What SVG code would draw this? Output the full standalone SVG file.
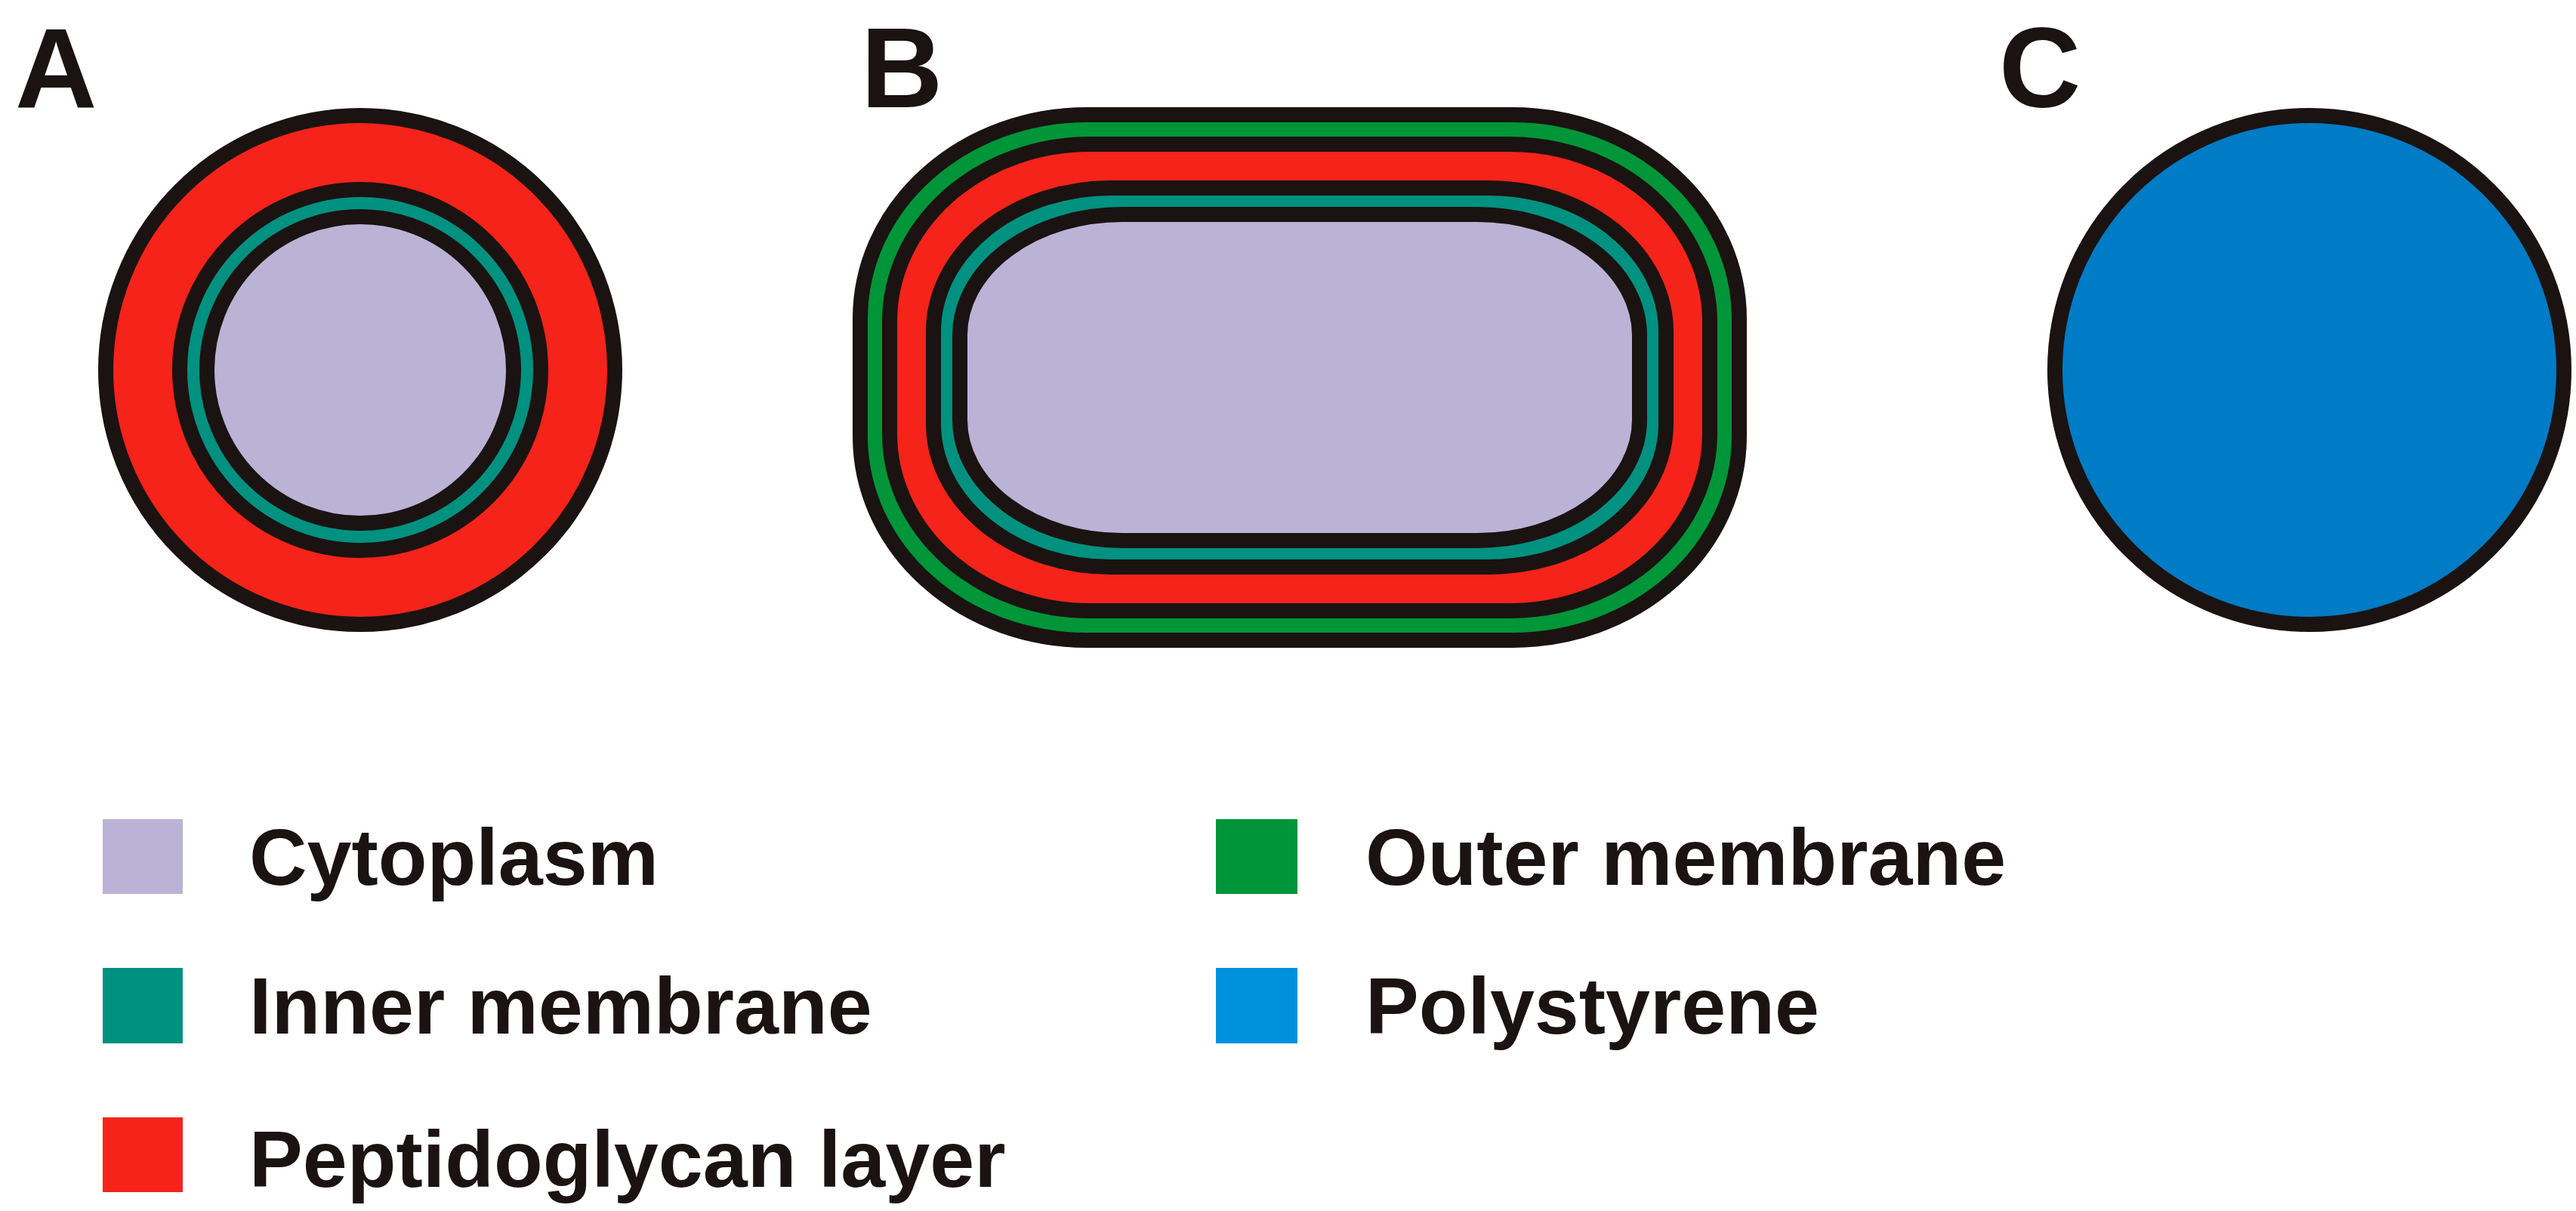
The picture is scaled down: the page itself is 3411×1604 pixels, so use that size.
<svg xmlns="http://www.w3.org/2000/svg" width="3411" height="1604" viewBox="0 0 3411 1604">
<style>
.ln{stroke:#1a1311;stroke-width:20}
.lbl{font-family:"Liberation Sans",Arial,sans-serif;font-weight:bold;font-size:150px;fill:#1a1311}
.lg{font-family:"Liberation Sans",Arial,sans-serif;font-weight:bold;font-size:106px;fill:#1a1311}
.cyt{fill:#bbb3d6}.inm{fill:#009180}.pep{fill:#f52319}.out{fill:#009539}
</style>
<rect width="3411" height="1604" fill="#fff"/>
<g id="panelA">
<text class="lbl" x="20" y="142">A</text>
<circle class="ln pep" cx="477" cy="490" r="337"/>
<circle class="ln inm" cx="477" cy="490" r="239"/>
<circle class="ln cyt" cx="477" cy="490" r="203"/>
</g>
<g id="panelB">
<text class="lbl" x="1140" y="142">B</text>
<rect class="ln" fill="#1a1311" x="1139" y="152" width="1164" height="696" rx="300" ry="270"/>
<rect class="out" x="1149" y="162" width="1144" height="676" rx="290" ry="260"/>
<rect class="ln pep" x="1178" y="191" width="1086" height="618" rx="265" ry="235"/>
<rect class="ln inm" x="1236" y="249" width="970" height="502" rx="235" ry="190"/>
<rect class="ln cyt" x="1271" y="284" width="900" height="432" rx="215" ry="160"/>
</g>
<g id="panelC">
<text class="lbl" x="2647" y="142">C</text>
<circle class="ln" fill="#007bc5" cx="3058" cy="490" r="337"/>
</g>
<g id="legend">
<rect x="136" y="1085" width="106" height="99" fill="#bbb3d6"/>
<text class="lg" x="330" y="1172">Cytoplasm</text>
<rect x="136" y="1282" width="106" height="100" fill="#009180"/>
<text class="lg" x="330" y="1369">Inner membrane</text>
<rect x="136" y="1480" width="106" height="99" fill="#f52319"/>
<text class="lg" x="330" y="1572">Peptidoglycan layer</text>
<rect x="1610" y="1085" width="108" height="99" fill="#009539"/>
<text class="lg" x="1808" y="1172">Outer membrane</text>
<rect x="1610" y="1282" width="108" height="100" fill="#0091dc"/>
<text class="lg" x="1808" y="1369">Polystyrene</text>
</g>
<g id="connectors"/>
</svg>
